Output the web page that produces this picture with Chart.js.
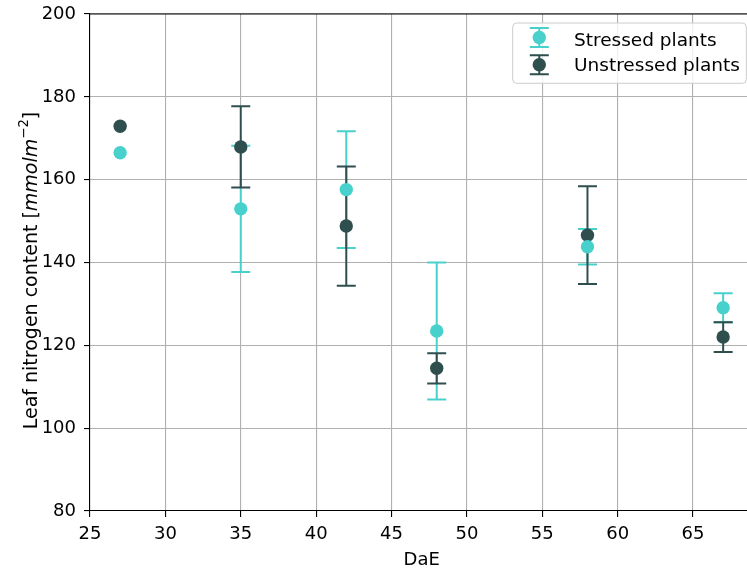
<!DOCTYPE html>
<html>
<head>
<meta charset="utf-8">
<script src="https://cdn.jsdelivr.net/npm/chart.js@4/dist/chart.umd.min.js"></script>
<style>
  html, body { margin: 0; padding: 0; overflow: hidden; background: #fff; }
  #wrap { width: 760px; height: 569px; }
</style>
</head>
<body>
<div id="wrap"><canvas id="nitrogenChart" width="760" height="569"></canvas></div>
<script>
// values
const dae = [27, 35, 42, 48, 58, 67]
const stressedN = [166.5, 152.95, 157.6, 123.45, 143.8, 129.1]
const stressedErr = [null, 15.25, 14.1, 16.55, 4.3, 3.5]
const unstressedN = [172.9, 167.9, 148.8, 114.45, 146.6, 122.0]
const unstressedErr = [null, 9.8, 14.4, 3.65, 11.8, 3.6]
const xTicks = [25, 30, 35, 40, 45, 50, 55, 60, 65]
const yTicks = [80, 100, 120, 140, 160, 180, 200]

const stressedColor = '#48d1cc'
const unstressedColor = '#2f4f4f'
const FONT = 'DejaVu Sans'
const capHalf = 9.5

function toPoints(xs, ys) {
  return xs.map((x, i) => ({ x: x, y: ys[i] }))
}

// error bars go under every marker
const errorBarPlugin = {
  id: 'errorBars',
  beforeDatasetsDraw(chart) {
    const { ctx, chartArea, scales } = chart
    ctx.save()
    ctx.beginPath()
    ctx.rect(chartArea.left, chartArea.top, chartArea.right - chartArea.left, chartArea.bottom - chartArea.top)
    ctx.clip()
    ctx.lineWidth = 2
    chart.data.datasets.forEach(ds => {
      ctx.strokeStyle = ds.borderColor
      ds.data.forEach((p, i) => {
        const err = ds.errors[i]
        if (err == null) return
        const px = scales.x.getPixelForValue(p.x)
        const top = scales.y.getPixelForValue(p.y + err)
        const bot = scales.y.getPixelForValue(p.y - err)
        ctx.beginPath()
        ctx.moveTo(px, top)
        ctx.lineTo(px, bot)
        ctx.moveTo(px - capHalf, top)
        ctx.lineTo(px + capHalf, top)
        ctx.moveTo(px - capHalf, bot)
        ctx.lineTo(px + capHalf, bot)
        ctx.stroke()
      })
    })
    ctx.restore()
  }
}

// axis titles, top spine and legend box
const decorPlugin = {
  id: 'decor',
  afterDraw(chart) {
    const { ctx, chartArea } = chart
    ctx.save()

    // top spine
    ctx.strokeStyle = '#000'
    ctx.lineWidth = 1.1
    ctx.beginPath()
    ctx.moveTo(chartArea.left, chartArea.top)
    ctx.lineTo(chartArea.right, chartArea.top)
    ctx.stroke()

    // x title
    ctx.fillStyle = '#000'
    ctx.font = `18px "${FONT}"`
    ctx.textAlign = 'center'
    ctx.textBaseline = 'alphabetic'
    ctx.fillText('DaE', (chartArea.left + chartArea.right) / 2, 565)

    // y title with italic units
    const parts = [
      { t: 'Leaf nitrogen content [', f: `19px "${FONT}"`, dy: 0 },
      { t: 'mmolm', f: `italic 19px "${FONT}"`, dy: 0 },
      { t: '\u22122', f: `13.3px "${FONT}"`, dy: -8.5 },
      { t: ']', f: `19px "${FONT}"`, dy: 0 }
    ]
    let total = 0
    parts.forEach(p => { ctx.font = p.f; p.w = ctx.measureText(p.t).width; total += p.w })
    ctx.translate(36.5, 270.5)
    ctx.rotate(-Math.PI / 2)
    ctx.textAlign = 'left'
    let x = -total / 2
    parts.forEach(p => {
      ctx.font = p.f
      ctx.fillText(p.t, x, p.dy)
      x += p.w
    })
    ctx.setTransform(1, 0, 0, 1, 0, 0)

    // legend
    const lx = 512.7, ly = 23, lw = chartArea.right - 7 - lx, lh = 60.3
    ctx.beginPath()
    ctx.roundRect(lx, ly, lw, lh, 4)
    ctx.fillStyle = 'rgba(255,255,255,0.8)'
    ctx.fill()
    ctx.strokeStyle = '#cccccc'
    ctx.lineWidth = 1
    ctx.stroke()

    chart.data.datasets.forEach((ds, i) => {
      const cy = 37.5 + i * 27.3
      const cx = 539.3
      ctx.strokeStyle = ds.borderColor
      ctx.lineWidth = 2
      ctx.beginPath()
      ctx.moveTo(cx, cy - 9.5)
      ctx.lineTo(cx, cy + 9.5)
      ctx.moveTo(cx - capHalf, cy - 9.5)
      ctx.lineTo(cx + capHalf, cy - 9.5)
      ctx.moveTo(cx - capHalf, cy + 9.5)
      ctx.lineTo(cx + capHalf, cy + 9.5)
      ctx.stroke()
      ctx.fillStyle = ds.backgroundColor
      ctx.beginPath()
      ctx.arc(cx, cy, 6.7, 0, Math.PI * 2)
      ctx.fill()
      ctx.fillStyle = '#000'
      ctx.font = `18.5px "${FONT}"`
      ctx.fillText(ds.label, 574, 45.7 + i * 25.3)
    })
    ctx.restore()
  }
}

function noOverflowPadding(scale) {
  scale.paddingTop = 0
  scale.paddingBottom = 0
  scale.paddingLeft = 0
  scale.paddingRight = 0
}

const ctx = document.getElementById('nitrogenChart').getContext('2d')
new Chart(ctx, {
  type: 'scatter',
  data: {
    datasets: [
      {
        label: 'Stressed plants',
        data: toPoints(dae, stressedN),
        errors: stressedErr,
        backgroundColor: stressedColor,
        borderColor: stressedColor,
        pointRadius: 6.7,
        pointBorderWidth: 0,
        pointHoverRadius: 6.7
      },
      {
        label: 'Unstressed plants',
        data: toPoints(dae, unstressedN),
        errors: unstressedErr,
        backgroundColor: unstressedColor,
        borderColor: unstressedColor,
        pointRadius: 6.7,
        pointBorderWidth: 0,
        pointHoverRadius: 6.7
      }
    ]
  },
  options: {
    responsive: false,
    devicePixelRatio: 1,
    animation: false,
    layout: { padding: { top: 14, right: 2, left: 1, bottom: 0 } },
    plugins: {
      legend: { display: false },
      tooltip: { enabled: false }
    },
    scales: {
      x: {
        type: 'linear',
        min: 25,
        max: 69,
        afterBuildTicks: scale => { scale.ticks = xTicks.map(v => ({ value: v })) },
        afterFit: scale => { scale.height = 58; noOverflowPadding(scale) },
        grid: { color: '#b0b0b0', lineWidth: 1.1, tickColor: '#000', tickLength: 6 },
        border: { color: '#000', width: 1.1 },
        ticks: { color: '#000', padding: 7, maxRotation: 0, font: { family: FONT, size: 18 } }
      },
      y: {
        min: 80,
        max: 200,
        afterBuildTicks: scale => { scale.ticks = yTicks.map(v => ({ value: v })) },
        afterFit: scale => { scale.width = 89; noOverflowPadding(scale) },
        grid: { color: '#b0b0b0', lineWidth: 1.1, tickColor: '#000', tickLength: 6 },
        border: { color: '#000', width: 1.1 },
        ticks: { color: '#000', padding: 8, font: { family: FONT, size: 18 } }
      }
    }
  },
  plugins: [errorBarPlugin, decorPlugin]
})
</script>
</body>
</html>
